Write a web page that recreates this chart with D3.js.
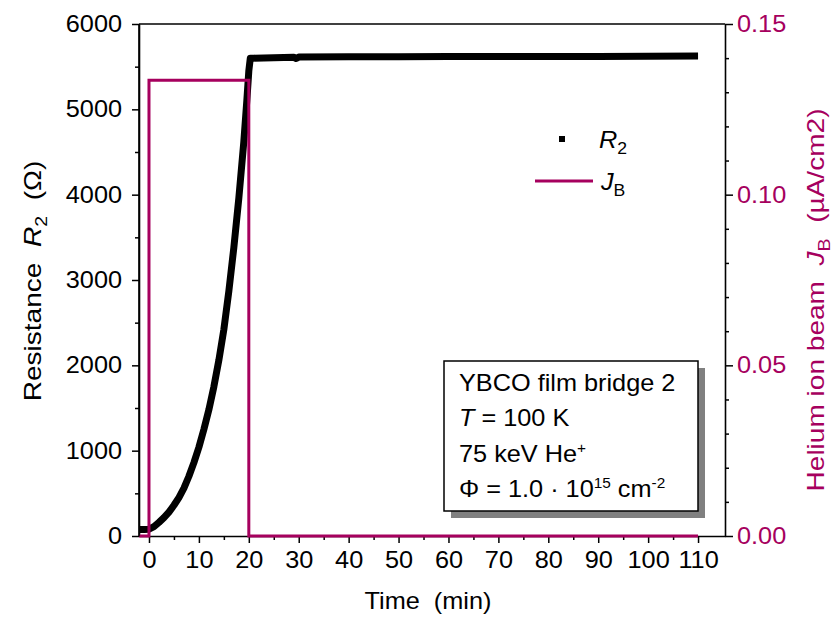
<!DOCTYPE html>
<html>
<head>
<meta charset="utf-8">
<script src="https://cdn.jsdelivr.net/npm/d3@7"></script>
<style>
  html, body { margin: 0; padding: 0; background: #fff; }
  svg { display: block; font-family: "Liberation Sans", Arial, sans-serif; }
  text { white-space: pre; }
</style>
</head>
<body>
<svg id="chart" width="833" height="619"></svg>
<script>
// ---- Data ----
const r2Time = [-2, -1, 0, 1, 2, 3, 4, 5, 6, 7, 8, 9, 10, 11, 12, 13, 14, 15, 16, 17, 18, 19, 19.6, 20, 20.3, 21, 25, 29, 29.5, 30, 40, 50, 60, 70, 80, 90, 100, 110];
const r2Ohm  = [75, 75, 80, 110, 160, 215, 280, 360, 450, 560, 700, 860, 1040, 1250, 1480, 1750, 2060, 2420, 2870, 3380, 3960, 4620, 5100, 5450, 5600, 5600, 5605, 5610, 5596, 5612, 5615, 5617, 5618, 5619, 5620, 5620, 5622, 5625];

const jbTime = [-2, 0, 0, 20, 20, 110];
const jbValue = [0, 0, 0.1335, 0.1335, 0, 0];

const xTicks = [0, 10, 20, 30, 40, 50, 60, 70, 80, 90, 100, 110];
const xMinorTicks = [5, 15, 25, 35, 45, 55, 65, 75, 85, 95, 105];
const yLeftTicks = [0, 1000, 2000, 3000, 4000, 5000, 6000];
const yLeftMinor = [500, 1500, 2500, 3500, 4500, 5500];
const yRightTicks = [0, 0.05, 0.10, 0.15];
const yRightMinor = [0.01, 0.02, 0.03, 0.04, 0.06, 0.07, 0.08, 0.09, 0.11, 0.12, 0.13, 0.14];

const magenta = "#A6005E";

// ---- Layout ----
const svg = d3.select("#chart");
const L = 139, R = 725, T = 24, B = 536;

const x = d3.scaleLinear().domain([-2, 115.4]).range([L, R]);
const yL = d3.scaleLinear().domain([0, 6000]).range([B, T]);
const yR = d3.scaleLinear().domain([0, 0.15]).range([B, T]);

const fs = 23;        // tick / annotation font size
const sx = 1.1;       // horizontal stretch of the wide font used in the original
const tfs = 23;       // axis-title font size
const tsx = 1.22;     // stretch along reading direction for the rotated titles

// stretch a text element about its anchor point
function stretch(sel, s) {
  sel.each(function () {
    const t = d3.select(this);
    const ax = +t.attr("x") || 0, ay = +t.attr("y") || 0;
    t.attr("transform", `translate(${ax},${ay}) scale(${s},1) translate(${-ax},${-ay})`);
  });
}

// frame top line
svg.append("line").attr("x1", L).attr("x2", R).attr("y1", T).attr("y2", T)
  .attr("stroke", "#000").attr("stroke-width", 1.5);

// ---- Axes ----
function styleAxis(g) {
  g.select(".domain").attr("stroke", "#000").attr("stroke-width", 1.6);
  g.selectAll(".tick line").attr("stroke", "#000").attr("stroke-width", 1.5);
  g.selectAll(".tick text").attr("fill", "#000").style("font-size", fs + "px")
    .style("font-family", "Liberation Sans, Arial, sans-serif");
  stretch(g.selectAll(".tick text"), sx);
}
function minor(g) {
  g.select(".domain").remove();
  g.selectAll(".tick line").attr("stroke", "#000").attr("stroke-width", 1.5);
}

// bottom
svg.append("g").attr("transform", `translate(0,${B})`)
  .call(d3.axisBottom(x).tickValues(xMinorTicks).tickSize(4).tickFormat("").tickSizeOuter(0)).call(minor);
svg.append("g").attr("transform", `translate(0,${B})`)
  .call(d3.axisBottom(x).tickValues(xTicks).tickSize(7).tickSizeOuter(0).tickPadding(9).tickFormat(d3.format("d")))
  .call(styleAxis);

// left
svg.append("g").attr("transform", `translate(${L},0)`)
  .call(d3.axisLeft(yL).tickValues(yLeftMinor).tickSize(4).tickFormat("").tickSizeOuter(0)).call(minor);
svg.append("g").attr("transform", `translate(${L},0)`)
  .call(d3.axisLeft(yL).tickValues(yLeftTicks).tickSize(7).tickSizeOuter(0).tickPadding(10).tickFormat(d3.format("d")))
  .call(styleAxis);

// right
svg.append("g").attr("transform", `translate(${R},0)`)
  .call(d3.axisRight(yR).tickValues(yRightMinor).tickSize(4).tickFormat("").tickSizeOuter(0)).call(minor);
const gr = svg.append("g").attr("transform", `translate(${R},0)`)
  .call(d3.axisRight(yR).tickValues(yRightTicks).tickSize(8).tickSizeOuter(0).tickPadding(4).tickFormat(d3.format(".2f")))
  .call(styleAxis);
gr.selectAll(".tick text").attr("fill", magenta);

// ---- Annotation box ----
const box = { x: 444, y: 361, w: 254, h: 150 };
svg.append("rect").attr("x", box.x + 7).attr("y", box.y + 7).attr("width", box.w).attr("height", box.h)
  .attr("fill", "#808080");
svg.append("rect").attr("x", box.x).attr("y", box.y).attr("width", box.w).attr("height", box.h)
  .attr("fill", "#fff").attr("stroke", "#000").attr("stroke-width", 1.5);

const ann = svg.append("g").style("font-size", fs + "px").attr("fill", "#000");
ann.append("text").attr("x", 459).attr("y", 391).text("YBCO film bridge 2");
const t2 = ann.append("text").attr("x", 459).attr("y", 426);
t2.append("tspan").style("font-style", "italic").text("T");
t2.append("tspan").text(" = 100 K");
const t3 = ann.append("text").attr("x", 459).attr("y", 462);
t3.append("tspan").text("75 keV He");
t3.append("tspan").attr("dy", -9).style("font-size", "14px").text("+");
const t4 = ann.append("text").attr("x", 459).attr("y", 497);
t4.append("tspan").text("\u03A6 = 1.0 \u00B7 10");
t4.append("tspan").attr("dy", -9).style("font-size", "14px").text("15");
t4.append("tspan").attr("dy", 9).text(" cm");
t4.append("tspan").attr("dy", -9).style("font-size", "14px").text("-2");
stretch(ann.selectAll("text"), sx);

// ---- Data lines ----
const r2Data = r2Time.map((t, i) => [t, r2Ohm[i]]);
const jbData = jbTime.map((t, i) => [t, jbValue[i]]);

svg.append("path").datum(r2Data)
  .attr("d", d3.line().x(d => x(d[0])).y(d => yL(d[1])))
  .attr("fill", "none").attr("stroke", "#000").attr("stroke-width", 7)
  .attr("stroke-linejoin", "round");

svg.append("path").datum(jbData)
  .attr("d", d3.line().x(d => x(d[0])).y(d => yR(d[1])))
  .attr("fill", "none").attr("stroke", magenta).attr("stroke-width", 3);

// left axis line over data
svg.append("line").attr("x1", L).attr("x2", L).attr("y1", T).attr("y2", B + 0.5)
  .attr("stroke", "#000").attr("stroke-width", 1.6);

// ---- Legend ----
svg.append("rect").attr("x", 559).attr("y", 136).attr("width", 6).attr("height", 6).attr("fill", "#000");
const lg1 = svg.append("text").attr("x", 599).attr("y", 148).style("font-size", fs + "px");
lg1.append("tspan").style("font-style", "italic").text("R");
lg1.append("tspan").attr("dy", 6).style("font-size", "16px").text("2");
svg.append("line").attr("x1", 535).attr("x2", 593).attr("y1", 181).attr("y2", 181)
  .attr("stroke", magenta).attr("stroke-width", 3);
const lg2 = svg.append("text").attr("x", 601).attr("y", 190).style("font-size", fs + "px");
lg2.append("tspan").style("font-style", "italic").text("J");
lg2.append("tspan").attr("dy", 6).style("font-size", "16px").text("B");
stretch(lg1, sx); stretch(lg2, sx);

// ---- Axis titles ----
const xt = svg.append("text").attr("x", 428).attr("y", 609).attr("text-anchor", "middle")
  .style("font-size", tfs + "px").text("Time  (min)");
stretch(xt, sx);

const yt = svg.append("text").attr("transform", `translate(41,281) rotate(-90) scale(${tsx},1)`)
  .attr("text-anchor", "middle").style("font-size", tfs + "px");
yt.append("tspan").text("Resistance  ");
yt.append("tspan").style("font-style", "italic").text("R");
yt.append("tspan").attr("dy", 6).style("font-size", "16px").text("2");
yt.append("tspan").attr("dy", -6).text("  (\u03A9)");

const rt = svg.append("text").attr("transform", `translate(824,300) rotate(-90) scale(${tsx},1)`)
  .attr("text-anchor", "middle").attr("fill", magenta).style("font-size", tfs + "px");
rt.append("tspan").text("Helium ion beam  ");
rt.append("tspan").style("font-style", "italic").text("J");
rt.append("tspan").attr("dy", 6).style("font-size", "16px").text("B");
rt.append("tspan").attr("dy", -6).text("  (\u00B5A/cm2)");
</script>
</body>
</html>
